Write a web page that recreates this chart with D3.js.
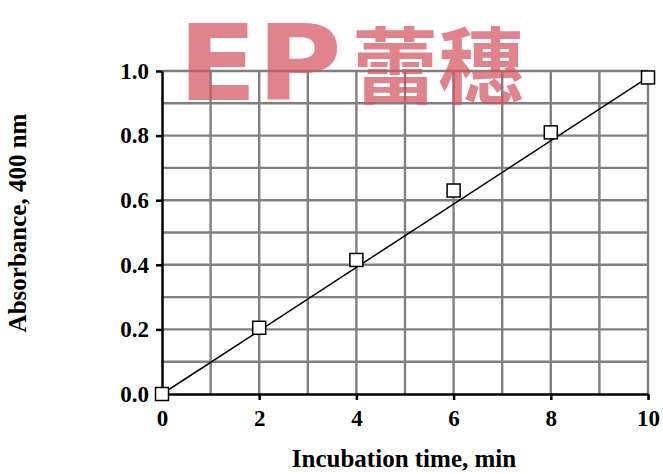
<!DOCTYPE html>
<html>
<head>
<meta charset="utf-8">
<script src="https://cdn.jsdelivr.net/npm/d3@7"></script>
<style>
  body { margin: 0; background: #fff; }
  svg text { font-family: "Liberation Serif", "Times New Roman", serif; font-weight: bold; }
</style>
</head>
<body>
<div id="chart"></div>
<script>
// data
let timeMin = [0, 2, 4, 6, 8, 10];
let absorbance = [0.0, 0.205, 0.415, 0.63, 0.81, 0.98];
let fitX = [0, 10];
let fitY = [0.0, 0.98];
let xTicks = [0, 2, 4, 6, 8, 10];
let yTicks = [0.0, 0.2, 0.4, 0.6, 0.8, 1.0];

let width = 663,
    height = 474;
let margin = {top: 71, right: 15, bottom: 80, left: 162};

let svg = d3.select("#chart")
    .append("svg")
    .attr("width", width)
    .attr("height", height);

let g = svg.append("g")
    .attr("transform", `translate(${margin.left}, ${margin.top})`);

let w = 648 - margin.left,
    h = 394 - margin.top;

let x = d3.scaleLinear().domain([0, 10]).range([0, w]);
let y = d3.scaleLinear().domain([0, 1]).range([h, 0]);

// grey grid, one line per minute and per 0.1
let grid = g.append("g").attr("stroke", "#808080").attr("stroke-width", 2.4);
grid.selectAll("line.v")
    .data(d3.range(1, 11))
    .enter().append("line")
    .attr("x1", d => x(d)).attr("x2", d => x(d))
    .attr("y1", 0).attr("y2", h);
grid.selectAll("line.h")
    .data(d3.range(1, 11).map(d => d / 10))
    .enter().append("line")
    .attr("x1", 0).attr("x2", w)
    .attr("y1", d => y(d)).attr("y2", d => y(d));

// axes
let xAxis = g.append("g")
    .attr("transform", `translate(0, ${h})`)
    .call(d3.axisBottom(x).tickValues(xTicks).tickSize(6).tickSizeOuter(0).tickPadding(10).tickFormat(d3.format("d")));
let yAxis = g.append("g")
    .call(d3.axisLeft(y).tickValues(yTicks).tickSize(6).tickSizeOuter(0).tickPadding(7).tickFormat(d3.format(".1f")));

[xAxis, yAxis].forEach(a => {
    a.select(".domain").attr("stroke", "#000").attr("stroke-width", 2.5);
    a.selectAll(".tick line").attr("stroke", "#000").attr("stroke-width", 2.5);
    a.selectAll(".tick text")
        .attr("fill", "#000")
        .style("font-size", "23px")
        .style("font-family", "'Liberation Serif', serif")
        .style("font-weight", "bold");
});

// fitted line
g.append("line")
    .attr("x1", x(fitX[0])).attr("y1", y(fitY[0]))
    .attr("x2", x(fitX[1])).attr("y2", y(fitY[1]))
    .attr("stroke", "#000")
    .attr("stroke-width", 1.5);

// open square markers
let s = 13;
g.selectAll("rect.pt")
    .data(timeMin)
    .enter().append("rect")
    .attr("x", d => x(d) - s / 2)
    .attr("y", (d, i) => y(absorbance[i]) - s / 2)
    .attr("width", s)
    .attr("height", s)
    .attr("fill", "#fff")
    .attr("stroke", "#000")
    .attr("stroke-width", 1.5);

// axis titles
svg.append("text")
    .attr("x", 404)
    .attr("y", 467)
    .style("text-anchor", "middle")
    .style("font-size", "25px")
    .text("Incubation time, min");

svg.append("text")
    .attr("transform", "translate(26, 223) rotate(-90)")
    .style("text-anchor", "middle")
    .style("font-size", "25px")
    .text("Absorbance, 400 nm");

// watermark
let wm = svg.append("g").attr("opacity", 0.7).attr("fill", "#d4505c");
wm.append("text")
    .attr("x", 178)
    .attr("y", 100)
    .style("font-family", "'DejaVu Sans', sans-serif")
    .style("font-size", "106px")
    .attr("textLength", 164)
    .attr("lengthAdjust", "spacingAndGlyphs")
    .text("EP");
wm.append("text")
    .attr("x", 352)
    .attr("y", 97)
    .style("font-family", "'Noto Sans CJK SC', sans-serif")
    .style("font-size", "83px")
    .attr("textLength", 172)
    .attr("lengthAdjust", "spacingAndGlyphs")
    .text("蕾穗");
</script>
</body>
</html>
